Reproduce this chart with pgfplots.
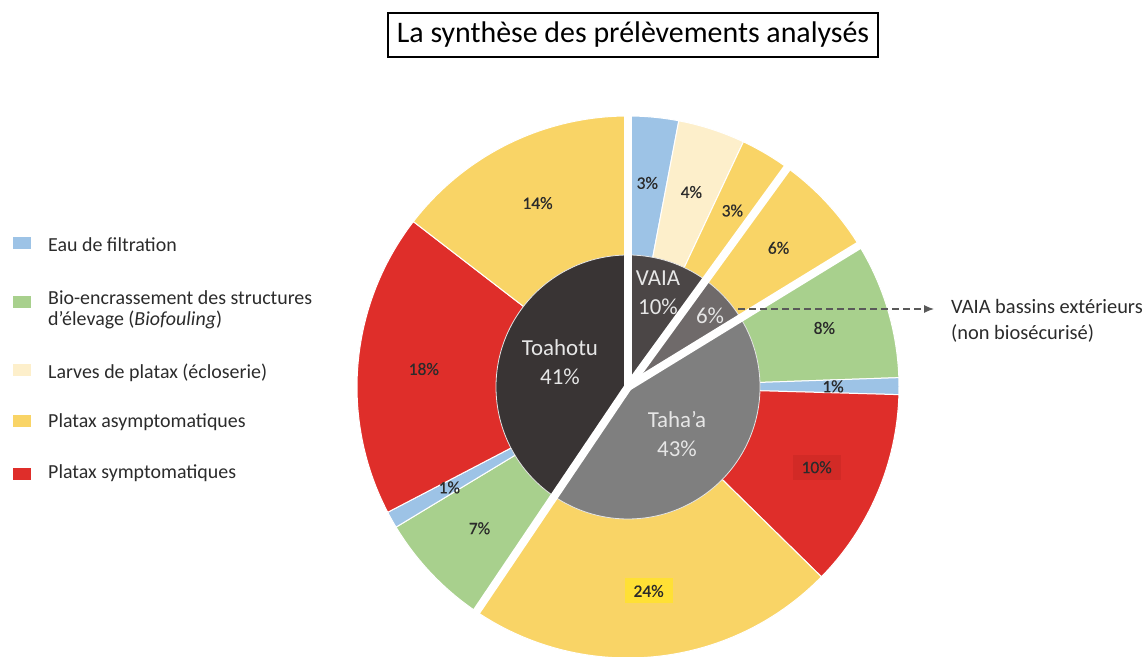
\documentclass[border=0pt]{standalone}
\usepackage{pgfplots}
\pgfplotsset{compat=1.18}
\usepackage{pgfplotstable}
\usetikzlibrary{arrows.meta}
\usepackage{fontspec}
\setmainfont{Carlito}
\newfontfamily\semib{Carlito}[FakeBold=0.5]
\definecolor{cblue}{HTML}{9DC3E6}
\definecolor{cgreen}{HTML}{A8D08D}
\definecolor{clight}{HTML}{FDEFCB}
\definecolor{cyellow}{HTML}{F9D466}
\definecolor{cred}{HTML}{DF2E2A}
\definecolor{cvaia}{HTML}{4B4646}
\definecolor{cbass}{HTML}{6F6A6A}
\definecolor{ctaha}{HTML}{7F7F7F}
\definecolor{ctoa}{HTML}{393434}
\definecolor{ctxt}{HTML}{2B2B2B}
\definecolor{cinner}{HTML}{E6E6E6}
\definecolor{b10}{HTML}{D22A26}
\definecolor{b24}{HTML}{FFE035}

% outer ring, clockwise from 12 o'clock: share of the circle (%), colour, label
\pgfplotstableread{
share col lab box
3.0 cblue 3 none
4.0 clight 4 none
3.0 cyellow 3 none
6.25 cyellow 6 none
8.2 cgreen 8 none
1.0 cblue 1 none
11.9 cred 10 b10
22.1 cyellow 24 b24
6.9 cgreen 7 none
1.0 cblue 1 none
18.1 cred 18 none
14.55 cyellow 14 none
}\outerdata

% inner ring
\pgfplotstableread{
share col
10.0 cvaia
6.25 cbass
43.2 ctaha
40.55 ctoa
}\innerdata

\newcommand\lfont{\semib\fontsize{17.5}{20}\selectfont}

% build the sector drawing commands from the tables
\gdef\outerpaths{}
\gdef\outerlabels{}
\gdef\innerpaths{}
\def\astart{90}
\pgfplotsforeachungrouped \i in {0,...,11}{%
  \pgfplotstablegetelem{\i}{share}\of\outerdata \let\sh\pgfplotsretval
  \pgfplotstablegetelem{\i}{col}\of\outerdata \let\co\pgfplotsretval
  \pgfplotstablegetelem{\i}{lab}\of\outerdata \let\lb\pgfplotsretval
  \pgfplotstablegetelem{\i}{box}\of\outerdata \let\bx\pgfplotsretval
  \pgfmathsetmacro\aend{\astart-3.6*\sh}%
  \pgfmathsetmacro\amid{(\astart+\aend)/2}%
  \xdef\outerpaths{\unexpanded\expandafter{\outerpaths}%
    \noexpand\fill[\co, draw=white, line width=1bp] (axis cs:628,270) -- ++(\astart:271bp) arc[start angle=\astart, end angle=\aend, radius=271bp] -- cycle;}%
  \xdef\outerlabels{\unexpanded\expandafter{\outerlabels}%
    \noexpand\node[font=\noexpand\lfont, text=ctxt, fill=\bx, inner sep=0pt, minimum width=48bp, minimum height=25bp] at ([shift={(\amid:205bp)}]axis cs:628,270) {\lb\noexpand\%};}%
  \global\let\astart\aend
}
\def\astart{90}
\pgfplotsforeachungrouped \i in {0,...,3}{%
  \pgfplotstablegetelem{\i}{share}\of\innerdata \let\sh\pgfplotsretval
  \pgfplotstablegetelem{\i}{col}\of\innerdata \let\co\pgfplotsretval
  \pgfmathsetmacro\aend{\astart-3.6*\sh}%
  \xdef\innerpaths{\unexpanded\expandafter{\innerpaths}%
    \noexpand\fill[\co, draw=white!80!gray, line width=0.8bp] (axis cs:628,270) -- ++(\astart:132bp) arc[start angle=\astart, end angle=\aend, radius=132bp] -- cycle;}%
  \global\let\astart\aend
}

\begin{document}
\begin{tikzpicture}
\begin{axis}[
  scale only axis, width=1148bp, height=657bp,
  xmin=0, xmax=1148, ymin=0, ymax=657,
  axis lines=none,
]
\outerpaths
\outerlabels
\innerpaths
% group separators
\draw[white, line width=8bp] (axis cs:628,270) -- ++(90:280bp);
\draw[white, line width=8bp] (axis cs:628,270) -- ++(54:280bp);
\draw[white, line width=8bp] (axis cs:628,270) -- ++(31.5:280bp);
\draw[white, line width=8bp] (axis cs:628,270) -- ++(-124:280bp);
% inner labels
\begin{scope}[every node/.style={text=cinner, font=\fontsize{23}{29}\selectfont, align=center, inner sep=0pt}]
\node at (axis cs:658,364) {VAIA\\10\%};
\node at (axis cs:710,341) {6\%};
\node at (axis cs:560,295) {Toahotu\\41\%};
\node at (axis cs:677,223) {Taha'a\\43\%};
\end{scope}
% annotation
\draw[dash pattern=on 7bp off 4bp, gray!70!black, line width=1.1bp, -{Latex[length=10bp,width=8bp]}] (axis cs:738,348) -- (axis cs:934,348);
\node[anchor=west, align=left, text=ctxt, font=\fontsize{20.5}{26}\selectfont, inner sep=0pt] at (axis cs:951,336) {VAIA bassins extérieurs\\(non biosécurisé)};
% title
\node[draw=black, line width=1.6bp, minimum width=490bp, minimum height=44bp, inner sep=0pt, font=\fontsize{30}{34}\selectfont] at (axis cs:633,622) {La synthèse des prélèvements analysés};
% legend
\fill[cblue] (axis cs:13,408) rectangle (axis cs:31,420);
\fill[cgreen] (axis cs:13,349) rectangle (axis cs:31,361);
\fill[clight] (axis cs:13,281) rectangle (axis cs:31,293);
\fill[cyellow] (axis cs:13,230) rectangle (axis cs:31,242);
\fill[cred] (axis cs:13,177) rectangle (axis cs:31,189);
\begin{scope}[every node/.style={anchor=west, text=ctxt, font=\fontsize{20}{24}\selectfont, inner sep=0pt}]
\node at (axis cs:48,412) {Eau de filtration};
\node at (axis cs:48,359) {Bio-encrassement des structures};
\node at (axis cs:48,337) {d'élevage (\textit{Biofouling})};
\node at (axis cs:48,284) {Larves de platax (écloserie)};
\node at (axis cs:48,235) {Platax asymptomatiques};
\node at (axis cs:48,184) {Platax symptomatiques};
\end{scope}
\end{axis}
\pgfresetboundingbox
\path (current axis.south west) rectangle (current axis.north east);
\end{tikzpicture}
\end{document}
